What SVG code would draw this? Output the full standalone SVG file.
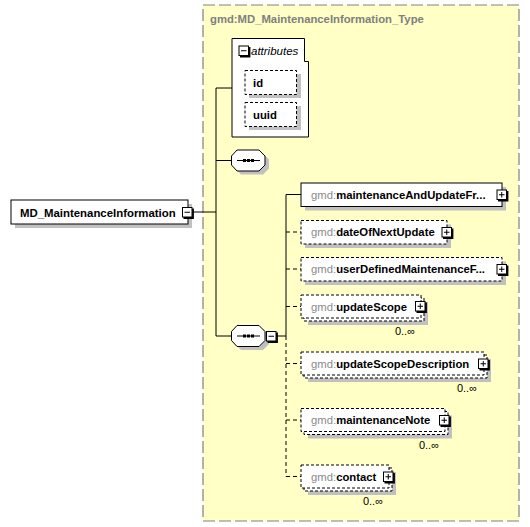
<svg xmlns="http://www.w3.org/2000/svg" xmlns:xlink="http://www.w3.org/1999/xlink" width="530" height="527" viewBox="0 0 530 527">
<style>
text{font-family:"Liberation Sans",Arial,sans-serif;}
.lbl{font-size:11.3px;font-weight:bold;fill:#000;}
.ns{font-weight:normal;fill:#8c8c8c;}
.occ{font-size:11px;fill:#000;text-anchor:end;}
.box{fill:#fff;stroke:#000;stroke-width:1;}
.dbox{fill:#fff;stroke:#000;stroke-width:1;stroke-dasharray:3,2;}
.shadow{fill:#c0c0c0;}
.ln{stroke:#000;stroke-width:1;fill:none;}
.dln{stroke:#000;stroke-width:1;fill:none;stroke-dasharray:4,3;}
</style>
<defs>
<g id="plus">
<rect x="0.5" y="0.5" width="9.5" height="9.5" fill="#fff" stroke="#000"/>
<path d="M11,1.5V11H1.5" stroke="#000" stroke-width="1.8" fill="none"/>
<path d="M2.5,5.25H8M5.25,2.5V8" stroke="#000" stroke-width="1"/>
</g>
<g id="minus">
<rect x="0.5" y="0.5" width="9.5" height="9.5" fill="#fff" stroke="#000"/>
<path d="M11,1.5V11H1.5" stroke="#000" stroke-width="1.8" fill="none"/>
<path d="M2.5,5.25H8" stroke="#000" stroke-width="1"/>
</g>
<g id="seq">
<path d="M10,4H32L38,10V19L32,25H10L4,19V10Z" class="shadow"/>
<path d="M6,0.5H28L34,6.5V15.5L28,21.5H6L0.5,15.5V6.5Z" fill="#fff" stroke="#000"/>
<path d="M6,11H29" stroke="#000"/>
<rect x="12" y="9.5" width="3" height="3" fill="#000"/>
<rect x="16" y="9.5" width="3" height="3" fill="#000"/>
<rect x="20" y="9.5" width="3" height="3" fill="#000"/>
</g>
</defs>

<g id="type">
<rect x="203" y="5" width="316" height="516" fill="#ffffc6" stroke="#808080" stroke-width="1.2" stroke-dasharray="12,4"/>
<text x="210" y="23" style="font-size:11.3px;font-weight:bold;fill:#808080">gmd:MD_MaintenanceInformation_Type</text>
</g>

<g id="connectors">
<path class="ln" d="M193,212H216M216,88V336M216,88H232M216,160.5H231M216,336H231"/>
<path class="ln" d="M277,336H286M286,194.5V336M286,194.5H301"/>
<path class="dln" d="M286,336V476.5"/>
<path class="dln" d="M286,232H301M286,269H301M286,306.5H301M286,363.5H301M286,420H301M286,476.5H301"/>
</g>

<g id="root">
<rect x="15" y="204" width="177" height="24" class="shadow"/>
<rect x="11" y="200" width="177" height="24" class="box"/>
<text x="20" y="216.5" style="font-size:11.4px;font-weight:bold">MD_MaintenanceInformation</text>
<use xlink:href="#minus" x="182" y="207"/>
</g>

<g id="attributes">
<path d="M232,38.5H304.5V61.5H308.5V137H232Z" fill="#fff" stroke="#000"/>
<use xlink:href="#minus" x="238.5" y="45.5"/>
<text x="251" y="54.5" style="font-size:11.5px;font-style:italic">attributes</text>
<g id="attr-id">
<rect x="249" y="74" width="52" height="24" class="shadow"/>
<rect x="245" y="70.5" width="51.5" height="24" class="dbox"/>
<text x="253" y="87" class="lbl">id</text>
</g>
<g id="attr-uuid">
<rect x="249" y="106" width="52" height="24" class="shadow"/>
<rect x="245" y="102.5" width="51.5" height="24" class="dbox"/>
<text x="253" y="119" class="lbl">uuid</text>
</g>
</g>

<g id="seq1"><use xlink:href="#seq" x="231" y="149.5"/></g>
<g id="seq2"><use xlink:href="#seq" x="231" y="325"/><use xlink:href="#minus" x="266" y="331"/></g>

<g id="maintenanceAndUpdateFrequency">
<rect x="305" y="187" width="201" height="23.5" class="shadow"/>
<rect x="301" y="183" width="201" height="23.5" class="box"/>
<text x="311" y="198.5" class="lbl"><tspan class="ns">gmd:</tspan>maintenanceAndUpdateFr...</text>
<use xlink:href="#plus" x="496.5" y="189.5"/>
</g>

<g id="dateOfNextUpdate">
<rect x="305" y="224.5" width="146" height="23.5" class="shadow"/>
<rect x="301" y="220.5" width="146" height="23.5" class="dbox"/>
<text x="311" y="236" class="lbl"><tspan class="ns">gmd:</tspan>dateOfNextUpdate</text>
<use xlink:href="#plus" x="441.5" y="227"/>
</g>

<g id="userDefinedMaintenanceFrequency">
<rect x="305" y="261.5" width="201" height="23.5" class="shadow"/>
<rect x="301" y="257.5" width="201" height="23.5" class="dbox"/>
<text x="311" y="273" class="lbl"><tspan class="ns">gmd:</tspan>userDefinedMaintenanceF...</text>
<use xlink:href="#plus" x="496.5" y="264"/>
</g>

<g id="updateScope">
<rect x="308" y="302" width="120" height="23" class="shadow"/>
<rect x="304" y="298" width="120" height="23" class="dbox"/>
<rect x="301" y="295" width="120" height="23" class="dbox"/>
<text x="311" y="310.5" class="lbl"><tspan class="ns">gmd:</tspan>updateScope</text>
<use xlink:href="#plus" x="415" y="301"/>
<text x="415" y="335" class="occ">0..∞</text>
</g>

<g id="updateScopeDescription">
<rect x="308" y="359" width="183" height="23" class="shadow"/>
<rect x="304" y="355" width="183" height="23" class="dbox"/>
<rect x="301" y="352" width="183" height="23" class="dbox"/>
<text x="311" y="367.5" class="lbl"><tspan class="ns">gmd:</tspan>updateScopeDescription</text>
<use xlink:href="#plus" x="478" y="358.5"/>
<text x="477" y="392" class="occ">0..∞</text>
</g>

<g id="maintenanceNote">
<rect x="308" y="415.5" width="144" height="23" class="shadow"/>
<rect x="304" y="411.5" width="144" height="23" class="dbox"/>
<rect x="301" y="408.5" width="144" height="23" class="dbox"/>
<text x="311" y="424" class="lbl"><tspan class="ns">gmd:</tspan>maintenanceNote</text>
<use xlink:href="#plus" x="439" y="415"/>
<text x="439" y="448.5" class="occ">0..∞</text>
</g>

<g id="contact">
<rect x="308" y="472" width="88" height="23" class="shadow"/>
<rect x="304" y="468" width="88" height="23" class="dbox"/>
<rect x="301" y="465" width="88" height="23" class="dbox"/>
<text x="311" y="480.5" class="lbl"><tspan class="ns">gmd:</tspan>contact</text>
<use xlink:href="#plus" x="383" y="471.5"/>
<text x="383" y="505" class="occ">0..∞</text>
</g>
</svg>
